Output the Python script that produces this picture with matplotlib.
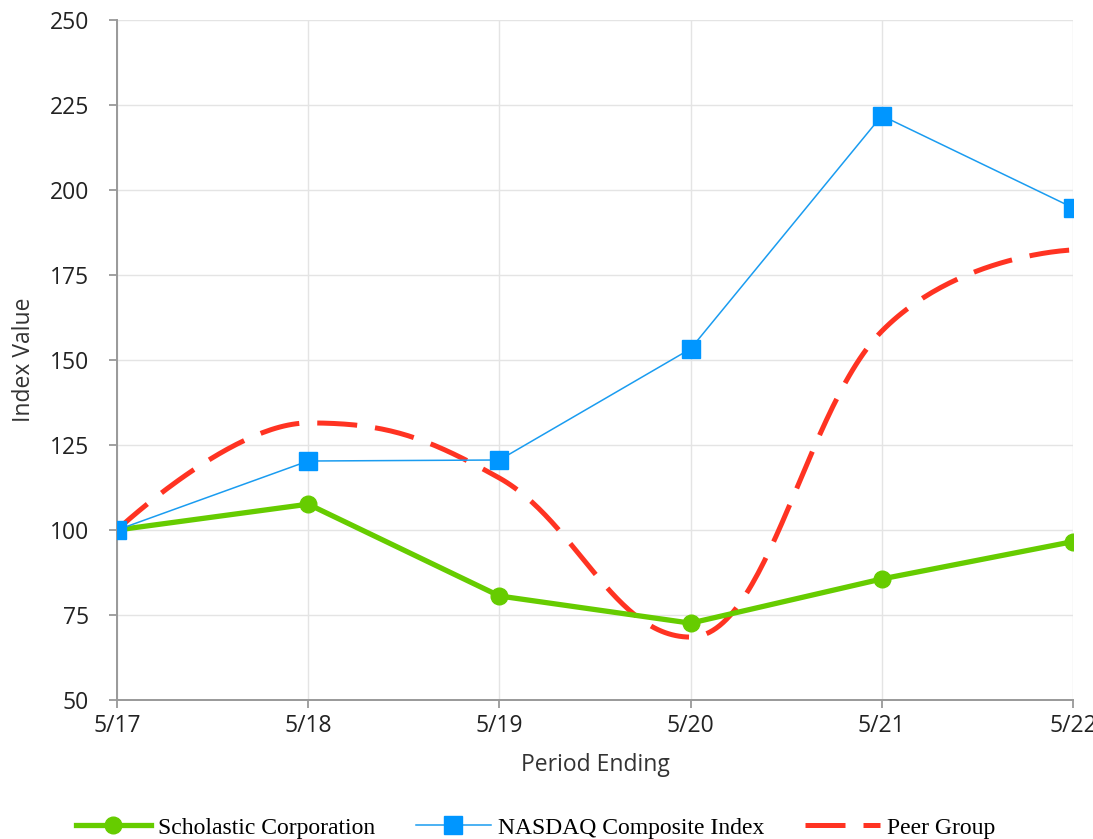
import numpy as np
import matplotlib
matplotlib.use("Agg")
import matplotlib.pyplot as plt

periods = ["5/17", "5/18", "5/19", "5/20", "5/21", "5/22"]
scholastic = [100, 107.6, 80.6, 72.6, 85.6, 96.6]
nasdaq = [100, 120.3, 120.6, 153.3, 221.9, 194.8]
peer = [100, 131.5, 115.3, 68.5, 158.5, 182.4]


# smoothed line like a web chart "spline": bezier segments, control points
# pulled toward neighbours, flattened at local extremes
def spline_path(x, y, smoothing=1.5, steps=60):
    x = np.asarray(x, float)
    y = np.asarray(y, float)
    n = len(x)
    lc = np.column_stack([x, y]).astype(float)
    rc = lc.copy()
    for i in range(1, n - 1):
        d = smoothing + 1
        lx = (smoothing * x[i] + x[i - 1]) / d
        ly = (smoothing * y[i] + y[i - 1]) / d
        rx = (smoothing * x[i] + x[i + 1]) / d
        ry = (smoothing * y[i] + y[i + 1]) / d
        if rx != lx:
            corr = (ry - ly) * (rx - x[i]) / (rx - lx) + y[i] - ry
            ly += corr
            ry += corr
        if ly > y[i - 1] and ly > y[i]:
            ly = max(y[i - 1], y[i]); ry = 2 * y[i] - ly
        elif ly < y[i - 1] and ly < y[i]:
            ly = min(y[i - 1], y[i]); ry = 2 * y[i] - ly
        if ry > y[i + 1] and ry > y[i]:
            ry = max(y[i + 1], y[i]); ly = 2 * y[i] - ry
        elif ry < y[i + 1] and ry < y[i]:
            ry = min(y[i + 1], y[i]); ly = 2 * y[i] - ry
        lc[i] = (lx, ly)
        rc[i] = (rx, ry)
    t = np.linspace(0, 1, steps)[:, None]
    pts = []
    for i in range(n - 1):
        p0 = np.array([x[i], y[i]])
        p3 = np.array([x[i + 1], y[i + 1]])
        p1, p2 = rc[i], lc[i + 1]
        seg = ((1 - t) ** 3) * p0 + 3 * ((1 - t) ** 2) * t * p1 + 3 * (1 - t) * t ** 2 * p2 + t ** 3 * p3
        pts.append(seg if i == 0 else seg[1:])
    pts = np.vstack(pts)
    return pts[:, 0], pts[:, 1]


x = np.arange(len(periods))
px, py = spline_path(x, peer)

fig = plt.figure(figsize=(10.93, 8.39), dpi=100)
ax = fig.add_axes([0.107, 0.1657, 0.8747, 0.8103])

ax.plot(px, py, color="#ff3322", lw=3.6, dashes=(8, 3.6),
        label="Peer Group", zorder=2)
ax.plot(x, scholastic, color="#66cc00", lw=3.8, marker="o", ms=12,
        label="Scholastic Corporation", zorder=3)
ax.plot(x, nasdaq, color="#1a9cf0", lw=1.1, marker="s", ms=13.5,
        mfc="#0096ff", mec="#0096ff", label="NASDAQ Composite Index", zorder=4)

ax.set_xlim(0, len(periods) - 1)
ax.set_ylim(50, 250)
ax.set_yticks(range(50, 251, 25))
ax.set_xticks(x)
ax.set_xticklabels(periods)
ax.grid(True, color="#e4e4e4", lw=1)
ax.set_axisbelow(True)
for s in ["top", "right"]:
    ax.spines[s].set_visible(False)
for s in ["left", "bottom"]:
    ax.spines[s].set_color("#999999")
    ax.spines[s].set_linewidth(1.4)
for lab in ax.get_xticklabels() + ax.get_yticklabels():
    lab.set_family("Open Sans")
ax.tick_params(colors="#999999", labelcolor="#222222", labelsize=16.5,
               length=6, width=1.3)
ax.tick_params(axis="y", pad=14)
ax.tick_params(axis="x", pad=4)
ax.set_xlabel("Period Ending", fontsize=16.5, family="Open Sans",
              color="#333333", labelpad=11)
ax.set_ylabel("Index Value", fontsize=16.5, family="Open Sans",
              color="#333333", labelpad=10)

h, l = ax.get_legend_handles_labels()
order = [1, 2, 0]
fig.legend([h[i] for i in order], [l[i] for i in order], loc="lower center",
           bbox_to_anchor=(0.49, -0.025), ncol=3, frameon=False,
           prop={"family": "Liberation Serif", "size": 17},
           handlelength=3.2, columnspacing=1.7, handletextpad=0.3)

fig.savefig("out.png", dpi=100)
